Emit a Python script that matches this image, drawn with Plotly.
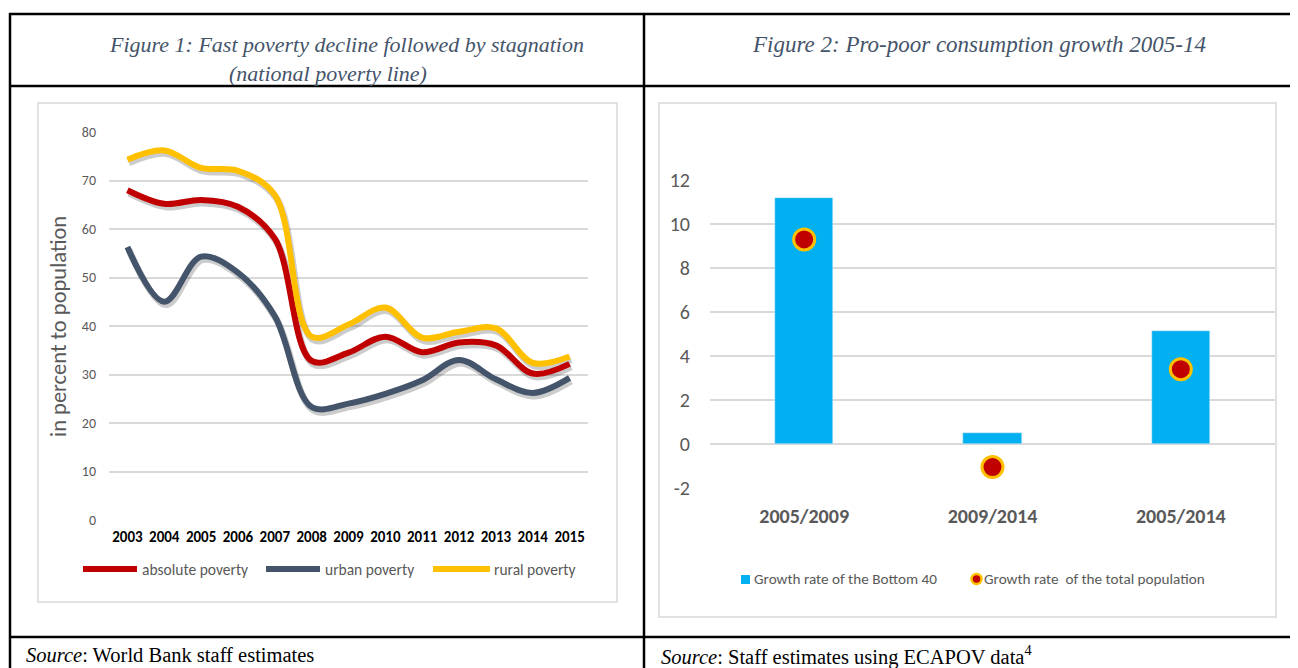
import plotly.graph_objects as go

# ---------------- data ----------------
years = ["2003", "2004", "2005", "2006", "2007", "2008", "2009",
         "2010", "2011", "2012", "2013", "2014", "2015"]
absolute_poverty = [68.0, 65.2, 66.0, 64.6, 58.0, 32.8, 34.5, 37.8, 34.6, 36.6, 36.0, 30.2, 32.2]
urban_poverty = [56.3, 45.0, 54.3, 51.0, 42.0, 23.3, 24.0, 26.0, 28.8, 33.0, 29.0, 26.2, 29.3]
rural_poverty = [74.3, 76.2, 72.6, 72.0, 67.0, 37.8, 40.3, 43.8, 37.6, 38.8, 39.5, 32.4, 33.7]
left_yticks = [0, 10, 20, 30, 40, 50, 60, 70, 80]

periods = ["2005/2009", "2009/2014", "2005/2014"]
bottom40_growth = [11.2, 0.5, 5.15]
total_growth = [9.3, -1.05, 3.4]
right_yticks = [-2, 0, 2, 4, 6, 8, 10, 12]
right_yticklabels = ["-2", "0", "2", "4", "6", "8", "10", "12"]

# ---------------- layout helpers ----------------
OFF = 8                      # page body margin
W, H = 1298 - OFF, 668 - OFF
def px(x):
    return (x - OFF) / W
def py(y):
    return 1 - (y - OFF) / H

RED = "#C00000"
SLATE = "#44546A"
GOLD = "#FFC000"
BLUE = "#00B0F0"
GRAY = "#595959"
GRID = "#D9D9D9"
FONT = "Carlito, Calibri, Lato, 'Open Sans', sans-serif"
SERIF = "'Liberation Serif', 'Times New Roman', serif"

fig = go.Figure()

series = [("absolute poverty", absolute_poverty, RED),
          ("urban poverty", urban_poverty, SLATE),
          ("rural poverty", rural_poverty, GOLD)]

# base axes carry grid and labels (invisible helper trace)
fig.add_trace(go.Scatter(x=years, y=absolute_poverty, mode="lines",
                         line=dict(width=0), hoverinfo="skip",
                         showlegend=False, xaxis="x", yaxis="y"))
# shadows (shifted axes)
for name, vals, col in series:
    fig.add_trace(go.Scatter(x=years, y=vals, mode="lines",
                             line=dict(color="rgba(0,0,0,0.2)", width=7,
                                       shape="spline", smoothing=1.0),
                             hoverinfo="skip", showlegend=False,
                             xaxis="x2", yaxis="y2"))
# real lines
for name, vals, col in series:
    fig.add_trace(go.Scatter(x=years, y=vals, mode="lines", name=name,
                             line=dict(color=col, width=6,
                                       shape="spline", smoothing=1.0),
                             showlegend=False, xaxis="x3", yaxis="y3"))

# right chart
fig.add_trace(go.Bar(x=periods, y=bottom40_growth, marker_color=BLUE,
                     width=0.31, name="Growth rate of the Bottom 40",
                     showlegend=False, xaxis="x4", yaxis="y4"))
fig.add_trace(go.Scatter(x=periods, y=total_growth, mode="markers",
                         marker=dict(size=21, color=RED,
                                     line=dict(color=GOLD, width=3)),
                         name="Growth rate  of the total population",
                         showlegend=False, xaxis="x4", yaxis="y4"))

LX = [px(109), px(588)]
LY = [py(520), py(132)]
dx, dy = 1.5, 3
hidden = dict(visible=False, fixedrange=True, automargin=False)

fig.update_layout(
    width=W, height=H, margin=dict(l=0, r=0, t=0, b=0, autoexpand=False),
    paper_bgcolor="white", plot_bgcolor="rgba(0,0,0,0)",
    font=dict(family=FONT, color=GRAY),
    showlegend=False,
    xaxis=dict(domain=LX, type="category", range=[-0.5, 12.5],
               showgrid=False, showline=False, ticks="", automargin=False,
               tickfont=dict(size=15, color="#000000", family=FONT, weight="bold"),
               ticklabelstandoff=6, anchor="y"),
    yaxis=dict(domain=LY, range=[0, 80], tickvals=left_yticks,
               showgrid=True, gridcolor=GRID, gridwidth=1.5, automargin=False,
               zeroline=False, showline=False, ticks="",
               tickfont=dict(size=14, color=GRAY), ticklabelstandoff=12,
               anchor="x"),
    xaxis2=dict(domain=[LX[0] + dx / W, LX[1] + dx / W], type="category",
                range=[-0.5, 12.5], anchor="y2", **hidden),
    yaxis2=dict(domain=[LY[0] - dy / H, LY[1] - dy / H], range=[0, 80],
                anchor="x2", **hidden),
    xaxis3=dict(domain=LX, type="category", range=[-0.5, 12.5],
                anchor="y3", **hidden),
    yaxis3=dict(domain=LY, range=[0, 80], anchor="x3", **hidden),
    xaxis4=dict(domain=[px(710), px(1275)], type="category",
                range=[-0.5, 2.5], showgrid=False, showline=False, ticks="",
                automargin=False,
                tickfont=dict(size=20, color=GRAY, family=FONT, weight="bold"),
                ticklabelstandoff=14, anchor="y4"),
    yaxis4=dict(domain=[py(488), py(180)], range=[-2, 12],
                tickvals=right_yticks, ticktext=right_yticklabels,
                showgrid=True, gridcolor=GRID, automargin=False,
                gridwidth=1.5, zeroline=True, zerolinecolor=GRID,
                zerolinewidth=1.5, showline=False, ticks="",
                tickfont=dict(size=20, color=GRAY), ticklabelstandoff=19,
                anchor="x4"),
    bargap=0,
)

shapes = []
# table lines
for yv in (14, 86, 637):
    shapes.append(dict(type="line", xref="paper", yref="paper",
                       x0=px(9), x1=1.0, y0=py(yv), y1=py(yv),
                       line=dict(color="black", width=2.5)))
for xv in (10, 644):
    shapes.append(dict(type="line", xref="paper", yref="paper",
                       x0=px(xv), x1=px(xv), y0=py(13), y1=0,
                       line=dict(color="black", width=2.5)))
# chart boxes
shapes.append(dict(type="rect", xref="paper", yref="paper",
                   x0=px(38), x1=px(617), y0=py(602), y1=py(103),
                   line=dict(color=GRID, width=1.5)))
shapes.append(dict(type="rect", xref="paper", yref="paper",
                   x0=px(659), x1=px(1276), y0=py(617), y1=py(103),
                   line=dict(color=GRID, width=1.5)))

annotations = []
# y-axis title, left chart
annotations.append(dict(text="in percent to population", x=px(58), y=py(327),
                        xref="paper", yref="paper", textangle=-90,
                        xanchor="center", yanchor="middle", showarrow=False,
                        font=dict(size=22.5, color=GRAY)))
# custom legend, left chart
leg_items = [(83, 137, 140, "absolute poverty", RED),
             (266, 320, 323, "urban poverty", SLATE),
             (433, 490, 492, "rural poverty", GOLD)]
for x0, x1, tx, label, col in leg_items:
    shapes.append(dict(type="line", xref="paper", yref="paper",
                       x0=px(x0), x1=px(x1), y0=py(569), y1=py(569),
                       line=dict(color=col, width=6)))
    annotations.append(dict(text=label, x=px(tx), y=py(569), xref="paper",
                            yref="paper", xanchor="left", yanchor="middle",
                            showarrow=False, font=dict(size=15.5, color=GRAY)))

# right legend
shapes.append(dict(type="rect", xref="paper", yref="paper",
                   x0=px(741), x1=px(750), y0=py(584), y1=py(575),
                   fillcolor=BLUE, line=dict(width=0)))
annotations.append(dict(text="Growth rate of the Bottom 40", x=px(752), y=py(579),
                        xref="paper", yref="paper", xanchor="left",
                        yanchor="middle", showarrow=False,
                        font=dict(size=15.2, color=GRAY)))
shapes.append(dict(type="circle", xref="paper", yref="paper",
                   x0=px(971.5), x1=px(981.5), y0=py(584), y1=py(574),
                   fillcolor=RED, line=dict(color=GOLD, width=2.5)))
annotations.append(dict(text="Growth rate\u00a0 of the total population", x=px(982),
                        y=py(579), xref="paper", yref="paper", xanchor="left",
                        yanchor="middle", showarrow=False,
                        font=dict(size=15.2, color=GRAY)))

# titles
annotations.append(dict(text="<i>Figure 1: Fast poverty decline followed by stagnation</i>",
                        x=px(346), y=py(45), xref="paper", yref="paper",
                        xanchor="center", yanchor="middle", showarrow=False,
                        font=dict(family=SERIF, size=22, color=SLATE)))
annotations.append(dict(text="<i>(national poverty line)</i>",
                        x=px(328), y=py(74), xref="paper", yref="paper",
                        xanchor="center", yanchor="middle", showarrow=False,
                        font=dict(family=SERIF, size=22, color=SLATE)))
annotations.append(dict(text="<i>Figure 2: Pro-poor consumption growth 2005-14</i>",
                        x=px(979), y=py(45), xref="paper", yref="paper",
                        xanchor="center", yanchor="middle", showarrow=False,
                        font=dict(family=SERIF, size=23, color=SLATE)))
# sources
annotations.append(dict(text="<i>Source</i>: World Bank staff estimates",
                        x=px(24), y=py(655), xref="paper", yref="paper",
                        xanchor="left", yanchor="middle", showarrow=False,
                        font=dict(family=SERIF, size=20.5, color="black")))
annotations.append(dict(text="<i>Source</i>: Staff estimates using ECAPOV data<sup>4</sup>",
                        x=px(659), y=py(655), xref="paper", yref="paper",
                        xanchor="left", yanchor="middle", showarrow=False,
                        font=dict(family=SERIF, size=20.5, color="black")))

fig.update_layout(shapes=shapes, annotations=annotations)
fig.write_html("out.html")
